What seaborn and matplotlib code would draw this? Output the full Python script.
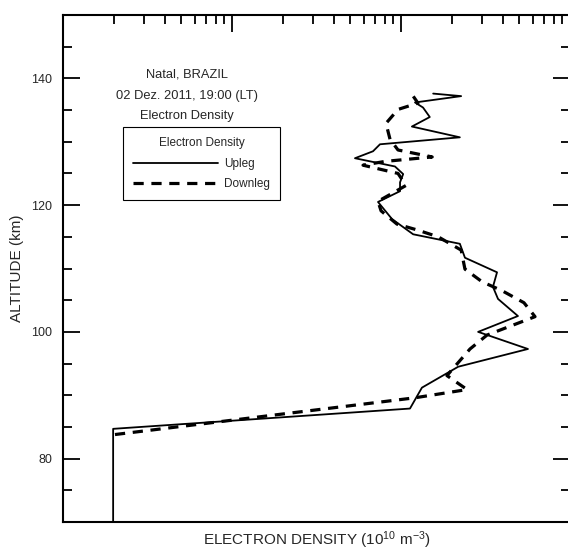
import matplotlib
matplotlib.use("Agg")
import matplotlib.pyplot as plt
from matplotlib.ticker import MultipleLocator, LogLocator, NullFormatter
import seaborn as sns
import pandas as pd

# Perfil de subida (Upleg): altitude (km) e densidade (10^10 m^-3)
altitude_up = [70.0, 84.7, 87.9, 91.2, 94.5, 97.3, 100.0, 102.5, 105.2, 107.1,
               109.4, 111.7, 113.9, 115.4, 117.8, 120.5, 122.2, 123.6, 124.9,
               126.1, 127.4, 128.5, 129.6, 130.7, 132.4, 133.9, 135.4, 136.2,
               137.2, 137.6]
density_up = [0.0198, 0.0198, 1.13, 1.33, 2.18, 5.64, 2.86, 4.92, 3.75, 3.50,
              3.70, 2.39, 2.23, 1.18, 0.885, 0.731, 0.987, 0.987, 1.03,
              0.921, 0.534, 0.683, 0.751, 2.23, 1.16, 1.48, 1.35, 1.21,
              2.27, 1.55]

# Perfil de descida (Downleg)
altitude_down = [83.8, 89.6, 90.9, 93.1, 97.3, 99.5, 102.4, 104.6, 106.5, 107.9,
                 109.9, 112.9, 115.0, 116.1, 117.0, 119.1, 120.6, 123.1, 125.0,
                 126.3, 126.9, 127.6, 128.7, 130.4, 132.9, 135.1, 136.1, 137.2]
density_down = [0.0203, 1.21, 2.46, 1.87, 2.56, 3.23, 6.21, 5.34, 3.96, 3.02,
                2.39, 2.27, 1.66, 1.24, 0.947, 0.762, 0.731, 1.07, 0.960,
                0.596, 0.804, 1.53, 0.960, 0.861, 0.815, 0.960, 1.26, 1.18]

info_lines = ["Natal, BRAZIL", "02 Dez. 2011, 19:00 (LT)", "Electron Density"]

sns.set_theme(style="ticks")
plt.rcParams["font.family"] = ["Liberation Sans", "DejaVu Sans"]
plt.rcParams["mathtext.fontset"] = "custom"
plt.rcParams["mathtext.rm"] = "Liberation Sans"
plt.rcParams["mathtext.it"] = "Liberation Sans:italic"

up = pd.DataFrame({"densidade": density_up, "altitude": altitude_up})
down = pd.DataFrame({"densidade": density_down, "altitude": altitude_down})

fig = plt.figure(figsize=(5.68, 5.5), dpi=100)
ax = fig.add_axes([63 / 568, 28 / 550, 507 / 568, 507 / 550])

sns.lineplot(data=up, x="densidade", y="altitude", sort=False, estimator=None,
             color="black", linewidth=1.3, label="Upleg", ax=ax)
sns.lineplot(data=down, x="densidade", y="altitude", sort=False, estimator=None,
             color="black", linewidth=2.3, dashes=False, label="Downleg", ax=ax)
ax.lines[1].set_dashes((3.2, 2.4))

ax.set_xscale("log")
ax.set_xlim(0.01, 10)
ax.set_ylim(70, 150)

ax.xaxis.set_major_locator(LogLocator(base=10))
ax.xaxis.set_minor_locator(LogLocator(base=10, subs=range(2, 10)))
ax.xaxis.set_minor_formatter(NullFormatter())
ax.yaxis.set_major_locator(MultipleLocator(20))
ax.yaxis.set_minor_locator(MultipleLocator(5))

ax.tick_params(axis="x", which="both", direction="in", top=True, bottom=False,
               labeltop=False, labelbottom=False, width=1.3, color="black")
ax.tick_params(axis="y", which="both", direction="in", left=True, right=True,
               labelright=False, width=1.3, color="black", labelsize=9,
               pad=8)
ax.tick_params(which="major", length=12)
ax.tick_params(which="minor", length=6.5)

for s in ax.spines.values():
    s.set_linewidth(1.5)
    s.set_color("black")

ax.set_xlabel("ELECTRON DENSITY (10$^{10}$ m$^{-3}$)", fontsize=11, labelpad=5)
ax.set_ylabel("ALTITUDE (km)", fontsize=11, labelpad=5)

for i, linha in enumerate(info_lines):
    ax.text(0.245, 0.882 - i * 0.041, linha, transform=ax.transAxes,
            ha="center", va="center", fontsize=9.3)

leg = ax.legend(title="Electron Density", loc="upper left",
                bbox_to_anchor=(0.118, 0.779), borderaxespad=0,
                fontsize=8.5, title_fontsize=8.5, handlelength=7.2,
                handletextpad=0.55, labelspacing=0.73, borderpad=0.85,
                fancybox=False, framealpha=1, edgecolor="black")
leg.get_frame().set_linewidth(0.8)

fig.savefig("out.png", dpi=100, facecolor="white")
